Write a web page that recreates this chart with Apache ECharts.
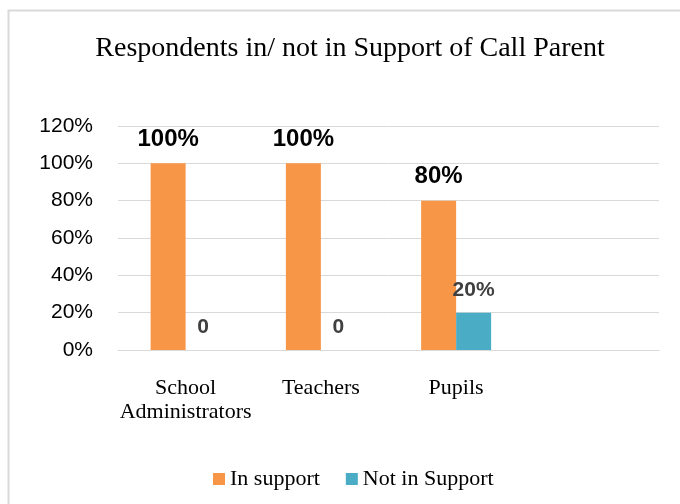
<!DOCTYPE html>
<html><head><meta charset="utf-8">
<script src="https://cdn.jsdelivr.net/npm/echarts@6/dist/echarts.min.js"></script>
<style>html,body{margin:0;padding:0;background:#fff}#c{width:680px;height:504px}</style>
</head><body><div id="c"></div>
<script>
var categories = ['School\nAdministrators', 'Teachers', 'Pupils', ''];
var inSupport = [100, 100, 80, null];
var notInSupport = [0, 0, 20, null];
var yTicks = [0, 20, 40, 60, 80, 100, 120];

var chart = echarts.init(document.getElementById('c'), null, {renderer: 'canvas'});
var serif = '"Liberation Serif", "Times New Roman", serif';
var sans = '"Liberation Sans", Arial, sans-serif';
chart.setOption({
  animation: false,
  backgroundColor: '#fff',
  graphic: [{
    type: 'rect', shape: {x: 8.5, y: 10.5, width: 700, height: 520},
    style: {fill: 'none', stroke: '#d9d9d9', lineWidth: 2}, silent: true
  }],
  title: {
    text: 'Respondents in/ not in Support of Call Parent',
    left: 345, top: 30, textAlign: 'center',
    textStyle: {fontFamily: serif, fontSize: 28, fontWeight: 'normal', color: '#000'}
  },
  legend: {
    data: ['In support', 'Not in Support'],
    left: 208, top: 463, itemWidth: 12, itemHeight: 12, itemGap: 26, itemTextGap: 4,
    icon: 'rect',
    textStyle: {fontFamily: serif, fontSize: 22, color: '#000'}
  },
  grid: {left: 118, right: 21, top: 126, bottom: 154, containLabel: false},
  xAxis: {
    type: 'category', data: categories,
    axisLine: {lineStyle: {color: '#d9d9d9', width: 1}},
    axisTick: {show: false},
    axisLabel: {fontFamily: serif, fontSize: 22, color: '#000', margin: 26, lineHeight: 24, interval: 0}
  },
  yAxis: {
    type: 'value', min: 0, max: 120, interval: 20,
    axisLine: {show: false}, axisTick: {show: false},
    splitLine: {lineStyle: {color: '#d9d9d9', width: 1}},
    axisLabel: {fontFamily: sans, fontSize: 21, color: '#000', margin: 25,
      formatter: function (v) { return yTicks.indexOf(v) >= 0 ? v + '%' : ''; }}
  },
  series: [{
    name: 'In support', type: 'bar', data: inSupport, barWidth: 35, barGap: '0%',
    itemStyle: {color: '#F79646'},
    label: {show: true, position: 'top', distance: 12, fontFamily: sans, fontSize: 24,
      fontWeight: 'bold', color: '#000', formatter: function (p) { return p.value + '%'; }}
  }, {
    name: 'Not in Support', type: 'bar', data: notInSupport, barWidth: 35,
    itemStyle: {color: '#4BACC6'},
    label: {show: true, position: 'top', distance: 12, fontFamily: sans, fontSize: 21,
      fontWeight: 'bold', color: '#404040',
      formatter: function (p) { return p.value === 0 ? '0' : p.value + '%'; }}
  }]
});
</script></body></html>
